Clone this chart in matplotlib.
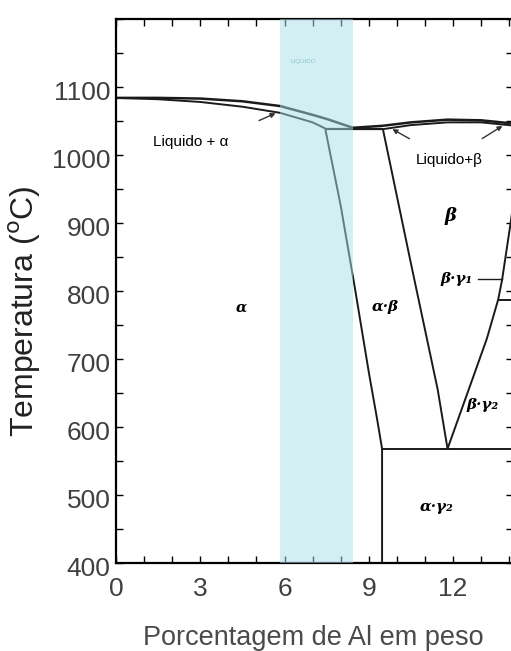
import numpy as np
import matplotlib
matplotlib.use("Agg")
import matplotlib.pyplot as plt
import matplotlib.transforms as mtransforms
from matplotlib.ticker import MultipleLocator, FixedLocator

plt.rcParams['font.family'] = ['Liberation Sans', 'DejaVu Sans']

# ── Phase boundaries (wt% Al, °C) ────────────────────────────────────────────
liq_a_x = [0, 1.5, 3, 4.5, 5.84, 7.0, 7.5, 8.43]
liq_a_t = [1084, 1084, 1083, 1079, 1072, 1059, 1053, 1040]
sol_a_x = [0, 1.5, 3, 4.5, 5.84, 7.0, 7.45]
sol_a_t = [1084, 1082, 1078, 1071, 1062, 1048, 1039]

eut_x = [7.45, 9.5]
eut_t = [1038, 1038]

liq_b_x = [8.43, 9.5, 10.5, 11.8, 13.0, 14.2]
liq_b_t = [1040, 1043, 1048, 1052, 1051, 1046]
sol_b_x = [9.5, 10.5, 11.8, 13.0, 14.2]
sol_b_t = [1038, 1044, 1048, 1048, 1043]

ab_x = [7.45, 8.0, 8.5, 9.0, 9.3, 9.47, 9.47]
ab_t = [1038, 925, 805, 680, 610, 568, 400]

b_left_x = [9.5, 10.5, 11.45, 11.8]
b_left_t = [1038, 840, 655, 568]

b_right_x = [11.8, 12.7, 13.2, 13.6, 13.74, 14.06, 14.2]
b_right_t = [568, 672, 730, 787, 816, 904, 950]

eutectoid_x = [9.47, 14.2]
eutectoid_t = [568, 568]
g1_x = [13.6, 14.2]
g1_t = [787, 787]

band = (5.84, 8.43)
yticks = [400, 500, 600, 700, 800, 900, 1000, 1100]

fig = plt.figure(figsize=(5.11, 6.51), dpi=100)
ax = fig.add_axes([116/511, 1 - 563/651, 397/511, (563 - 19)/651])
ax.set_xlim(0, 14.13)
ax.set_ylim(400, 1200)

lw = 1.4
for xs, ts, w in [(liq_a_x, liq_a_t, 1.8), (sol_a_x, sol_a_t, 1.4),
                  (eut_x, eut_t, 1.6), (liq_b_x, liq_b_t, 1.8),
                  (sol_b_x, sol_b_t, 1.4), (ab_x, ab_t, lw),
                  (b_left_x, b_left_t, lw), (b_right_x, b_right_t, lw),
                  (eutectoid_x, eutectoid_t, lw), (g1_x, g1_t, lw)]:
    ax.plot(xs, ts, color='#1a1a1a', lw=w, solid_capstyle='butt', zorder=2)

# light blue band over the lines
ax.axvspan(*band, color='#a9e0ea', alpha=0.5, lw=0, zorder=3)
ax.text(6.65, 1137, 'LIQUIDO', fontsize=4.5, color='#8cc4cf',
        ha='center', va='center', zorder=4)

# arrows pointing into the narrow two-phase bands
arr = dict(arrowstyle='-|>', color='#333333', lw=1.0, mutation_scale=7)
ax.annotate('', xy=(5.77, 1063), xytext=(5.0, 1049), arrowprops=arr)
ax.annotate('', xy=(9.75, 1040), xytext=(10.53, 1022), arrowprops=arr)
ax.annotate('', xy=(13.84, 1045), xytext=(12.95, 1022), arrowprops=arr)

# region labels
ax.text(2.67, 1019, 'Liquido + α', fontsize=11, ha='center', va='center')
ax.text(11.85, 993, 'Liquido+β', fontsize=11, ha='center', va='center')
greek = dict(family='DejaVu Serif', style='italic', weight='bold',
             ha='center', va='center')
ax.text(11.9, 910, 'β', fontsize=13, **greek)
ax.text(4.47, 776, 'α', fontsize=10.5, **greek)
ax.text(9.57, 776, 'α·β', fontsize=11, **greek)
ax.text(12.13, 818, 'β·γ₁', fontsize=11, **greek)
ax.plot([12.9, 13.74], [818, 818], color='#1a1a1a', lw=1.0)
ax.text(13.03, 632, 'β·γ₂', fontsize=11, **greek)
ax.text(11.42, 482, 'α·γ₂', fontsize=11, **greek)

# axes styling
for s in ax.spines.values():
    s.set_linewidth(1.6)
ax.xaxis.set_major_locator(MultipleLocator(3))
ax.xaxis.set_minor_locator(MultipleLocator(1))
ax.yaxis.set_major_locator(FixedLocator(yticks))
ax.yaxis.set_minor_locator(MultipleLocator(50))
ax.tick_params(which='both', direction='in', top=True, right=True,
               length=5, width=1.0)
ax.tick_params(axis='both', which='major', labelsize=19, labelcolor='#404040')
ax.tick_params(axis='x', pad=10)
ax.tick_params(axis='y', pad=4)

offset = mtransforms.ScaledTranslation(0, -4/100, fig.dpi_scale_trans)
for lab in ax.get_yticklabels():
    lab.set_transform(lab.get_transform() + offset)

ax.set_ylabel('Temperatura ($^{\\mathrm{o}}$C)', fontsize=23, color='#222222',
              va='center')
ax.yaxis.set_label_coords(-0.229, 0.463)
ax.set_xlabel('Porcentagem de Al em peso', fontsize=19.5, color='#4a4a4a',
              va='top')
ax.xaxis.set_label_coords(0.496, -0.114)

fig.savefig('out.png', dpi=100)
